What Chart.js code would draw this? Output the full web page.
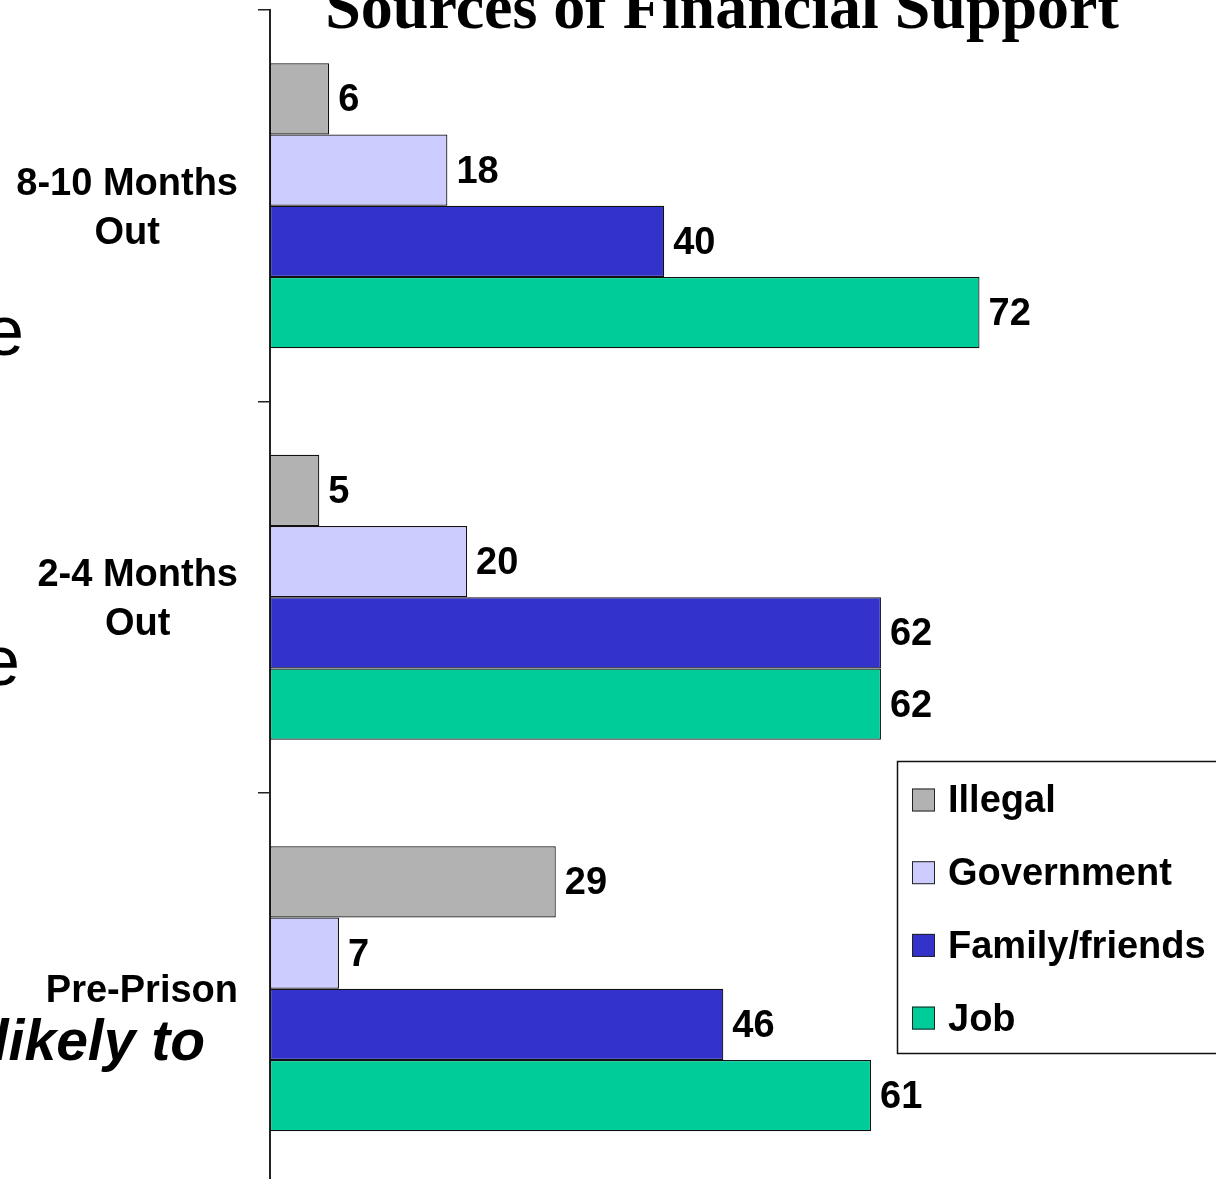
<!DOCTYPE html>
<html>
<head>
<meta charset="utf-8">
<script src="https://cdn.jsdelivr.net/npm/chart.js@4.4.0/dist/chart.umd.min.js"></script>
<style>
  html, body { margin: 0; padding: 0; background: #fff; overflow: hidden; }
  #wrap { width: 1216px; height: 1190px; }
</style>
</head>
<body>
<div id="wrap"><canvas id="chart"></canvas></div>
<script>
const titleText = 'Sources of Financial Support';
const categories = [['8-10 Months', 'Out'], ['2-4 Months', 'Out'], ['Pre-Prison']];
const seriesNames = ['Illegal', 'Government', 'Family/friends', 'Job'];
const illegal = [6, 5, 29];
const government = [18, 20, 7];
const familyFriends = [40, 62, 46];
const job = [72, 62, 61];
const colors = ['#b2b2b2', '#ccccff', '#3333cc', '#00cc99'];

const SANS = '"Liberation Sans", Arial, sans-serif';

// texts, value labels and legend drawn on top
const overlay = {
  id: 'overlay',
  afterDraw(chart) {
    const ctx = chart.ctx;
    const yScale = chart.scales.y;
    ctx.save();
    ctx.fillStyle = '#000';

    // title (cut off at top of the picture)
    ctx.font = 'bold 64px "Liberation Serif", "Times New Roman", serif';
    ctx.textAlign = 'center';
    ctx.textBaseline = 'alphabetic';
    ctx.fillText(titleText, 722, 28);

    // slide text peeking in from the left
    ctx.textAlign = 'right';
    ctx.font = '70px ' + SANS;
    ctx.fillText('e', 24, 355);
    ctx.fillText('e', 20, 685);
    ctx.font = 'italic bold 57px ' + SANS;
    ctx.fillText('likely to', 205, 1060);

    // category labels
    ctx.font = 'bold 38px ' + SANS;
    ctx.textAlign = 'center';
    ctx.textBaseline = 'middle';
    categories.forEach((lines, i) => {
      const cy = yScale.getPixelForValue(i) + 3;
      const w = Math.max(...lines.map(l => ctx.measureText(l).width));
      const cx = 238 - w / 2;
      lines.forEach((l, j) => {
        ctx.fillText(l, cx, cy + (j - (lines.length - 1) / 2) * 49);
      });
    });

    // value labels
    ctx.textAlign = 'left';
    chart.data.datasets.forEach((ds, di) => {
      chart.getDatasetMeta(di).data.forEach((bar, i) => {
        ctx.fillText(String(ds.data[i]), bar.x + 9, bar.y + 2);
      });
    });

    // legend
    ctx.fillStyle = '#fff';
    ctx.fillRect(897, 761, 330, 292);
    ctx.strokeStyle = '#111';
    ctx.lineWidth = 1.5;
    ctx.strokeRect(897.5, 761.5, 330, 292);
    chart.data.datasets.forEach((ds, di) => {
      const cy = 800 + di * 72.7;
      ctx.fillStyle = ds.backgroundColor;
      ctx.fillRect(912, cy - 11.5, 23, 23);
      ctx.lineWidth = 1;
      ctx.strokeStyle = '#222';
      ctx.strokeRect(912.5, cy - 11, 22, 22);
      ctx.fillStyle = '#000';
      ctx.fillText(ds.label, 948, cy + 2);
    });
    ctx.restore();
  }
};

new Chart(document.getElementById('chart'), {
  type: 'bar',
  data: {
    labels: categories,
    datasets: [
      { label: seriesNames[0], data: illegal, backgroundColor: colors[0] },
      { label: seriesNames[1], data: government, backgroundColor: colors[1] },
      { label: seriesNames[2], data: familyFriends, backgroundColor: colors[2] },
      { label: seriesNames[3], data: job, backgroundColor: colors[3] }
    ]
  },
  options: {
    indexAxis: 'y',
    responsive: true,
    maintainAspectRatio: false,
    animation: false,
    layout: { padding: { top: 10, bottom: 5.5, left: 0, right: 0 } },
    datasets: {
      bar: {
        categoryPercentage: 0.728,
        barPercentage: 1.0,
        borderWidth: 1.2,
        borderColor: '#111',
        borderSkipped: false
      }
    },
    scales: {
      x: {
        display: false,
        min: 0,
        max: 96
      },
      y: {
        position: 'left',
        offset: true,
        afterFit(scale) { scale.width = 270; },
        grid: {
          display: true,
          offset: true,
          drawOnChartArea: false,
          drawTicks: true,
          tickLength: 12,
          color: '#222',
          lineWidth: 1.5
        },
        border: { display: true, color: '#222', width: 2 },
        ticks: { display: false }
      }
    },
    plugins: {
      legend: { display: false },
      tooltip: { enabled: false }
    }
  },
  plugins: [overlay]
});
</script>
</body>
</html>
